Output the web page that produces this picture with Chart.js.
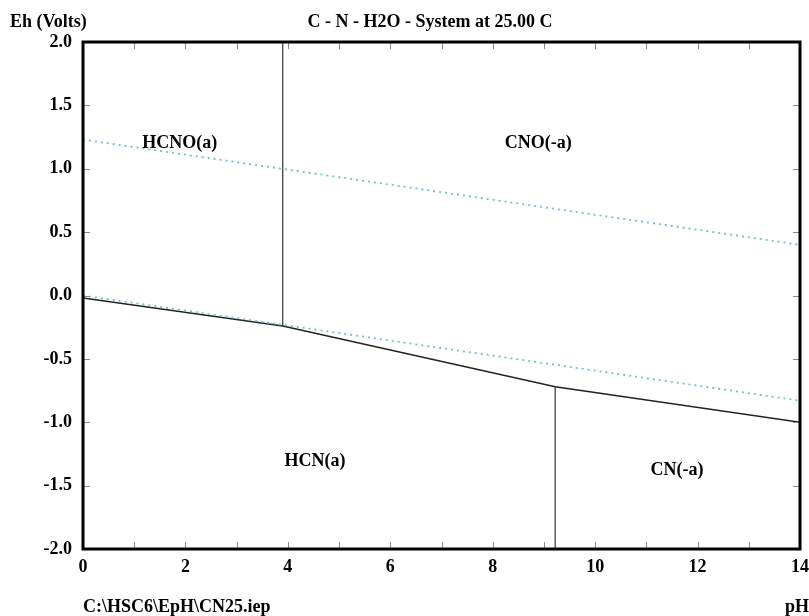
<!DOCTYPE html>
<html>
<head>
<meta charset="utf-8">
<title>C - N - H2O Eh-pH</title>
<script src="https://cdn.jsdelivr.net/npm/chart.js@4.4.0/dist/chart.umd.min.js"></script>
<style>
  html, body { margin: 0; padding: 0; background: #fff; }
  #wrap { width: 809px; height: 616px; }
</style>
</head>
<body>
<div id="wrap"><canvas id="eph" width="809" height="616"></canvas></div>
<script>
// pH / Eh ranges
const phRange = [0, 14];
const ehRange = [-2.0, 2.0];

// stability boundary HCNO(a)/CNO(-a) above, HCN(a)/CN(-a) below
const boundaryPh = [0, 3.9, 9.22, 14];
const boundaryEh = [-0.02, -0.24, -0.72, -1.0];

// vertical (acid/base) boundaries
const hcnoPh = [3.9, 3.9];
const hcnoEh = [2.0, -0.24];
const hcnPh = [9.22, 9.22];
const hcnEh = [-0.72, -2.0];

// water stability limits
const waterPh = [0, 14];
const oxygenEh = [1.23, 0.40];
const hydrogenEh = [0.0, -0.83];

// species labels
const speciesNames = ['HCNO(a)', 'CNO(-a)', 'HCN(a)', 'CN(-a)'];
const speciesPh = [1.89, 8.89, 4.53, 11.6];
const speciesEh = [1.20, 1.20, -1.31, -1.38];

const FONT = 'bold 18px "Liberation Serif", "Times New Roman", serif';

function pts(xs, ys) {
    return xs.map((x, i) => ({ x: x, y: ys[i] }));
}

// frame, inner ticks and all the text around the plot
const decorations = {
    id: 'decorations',
    afterDatasetsDraw(chart) {
        const ctx = chart.ctx;
        const a = chart.chartArea;
        const xs = chart.scales.x;
        const ys = chart.scales.y;
        ctx.save();

        // inner tick marks
        ctx.strokeStyle = '#888';
        ctx.lineWidth = 1;
        ctx.beginPath();
        for (let p = phRange[0] + 1; p < phRange[1]; p++) {
            const px = Math.round(xs.getPixelForValue(p)) + 0.5;
            ctx.moveTo(px, a.top); ctx.lineTo(px, a.top + 7);
            ctx.moveTo(px, a.bottom); ctx.lineTo(px, a.bottom - 7);
        }
        for (let e = ehRange[0] + 0.5; e < ehRange[1]; e += 0.5) {
            const py = Math.round(ys.getPixelForValue(e)) + 0.5;
            ctx.moveTo(a.left, py); ctx.lineTo(a.left + 7, py);
            ctx.moveTo(a.right, py); ctx.lineTo(a.right - 7, py);
        }
        ctx.stroke();

        // heavy frame
        ctx.strokeStyle = '#000';
        ctx.lineWidth = 3;
        ctx.strokeRect(a.left, a.top, a.right - a.left, a.bottom - a.top);

        ctx.fillStyle = '#000';
        ctx.font = FONT;
        ctx.textBaseline = 'middle';
        ctx.textAlign = 'center';
        speciesNames.forEach((name, i) => {
            ctx.fillText(name, xs.getPixelForValue(speciesPh[i]), ys.getPixelForValue(speciesEh[i]));
        });

        ctx.textBaseline = 'alphabetic';
        ctx.textAlign = 'left';
        ctx.fillText('Eh (Volts)', 10, 27);
        ctx.fillText('C:\\HSC6\\EpH\\CN25.iep', 83, 612);
        ctx.textAlign = 'center';
        ctx.fillText('C - N - H2O - System at 25.00 C', 430, 27);
        ctx.textAlign = 'right';
        ctx.fillText('pH', 809, 612);
        ctx.restore();
    }
};

const lineStyle = { showLine: true, pointRadius: 0, fill: false, tension: 0 };
const tickFont = { family: '"Liberation Serif"', size: 18, weight: 'bold' };

new Chart(document.getElementById('eph'), {
    type: 'scatter',
    data: {
        datasets: [
            { ...lineStyle, data: pts(waterPh, oxygenEh), borderColor: '#6cc3c6', borderWidth: 1.8, borderDash: [2, 4] },
            { ...lineStyle, data: pts(waterPh, hydrogenEh), borderColor: '#6cc3c6', borderWidth: 1.8, borderDash: [2, 4] },
            { ...lineStyle, data: pts(hcnoPh, hcnoEh), borderColor: '#333', borderWidth: 1.2 },
            { ...lineStyle, data: pts(hcnPh, hcnEh), borderColor: '#333', borderWidth: 1.2 },
            { ...lineStyle, data: pts(boundaryPh, boundaryEh), borderColor: '#222', borderWidth: 1.6 }
        ]
    },
    options: {
        responsive: false,
        animation: false,
        layout: { padding: { top: 42, right: 9, left: 0, bottom: 0 } },
        plugins: { legend: { display: false }, tooltip: { enabled: false } },
        scales: {
            x: {
                type: 'linear',
                min: phRange[0], max: phRange[1],
                grid: { display: false, drawTicks: false },
                border: { display: false },
                ticks: { stepSize: 2, padding: 8, color: '#000', font: tickFont },
                afterFit(s) { s.height = 67; s.paddingLeft = 0; s.paddingRight = 0; }
            },
            y: {
                type: 'linear',
                min: ehRange[0], max: ehRange[1],
                grid: { display: false, drawTicks: false },
                border: { display: false },
                ticks: {
                    stepSize: 0.5, padding: 11, color: '#000', font: tickFont,
                    callback: v => v.toFixed(1)
                },
                afterFit(s) { s.width = 83; s.paddingTop = 0; s.paddingBottom = 0; }
            }
        }
    },
    plugins: [decorations]
});
</script>
</body>
</html>
